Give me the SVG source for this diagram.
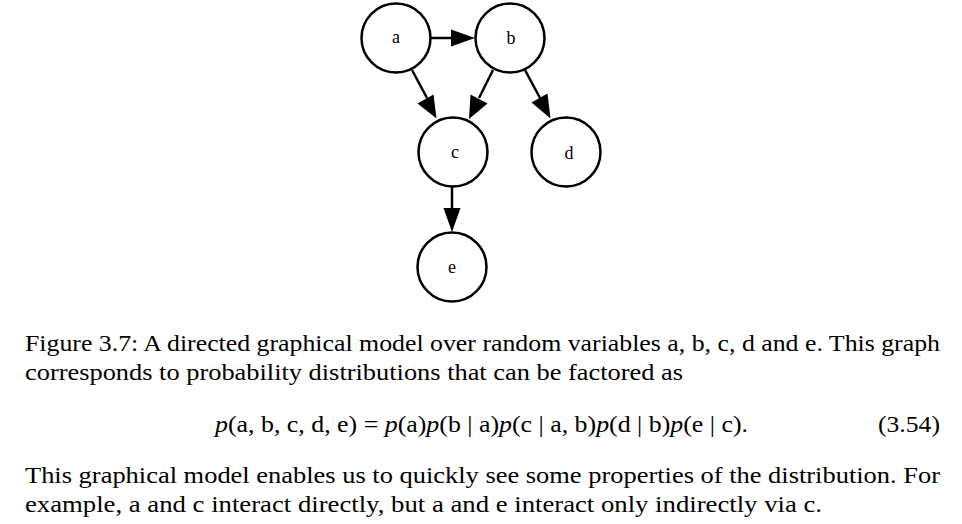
<svg xmlns="http://www.w3.org/2000/svg" width="962" height="524" viewBox="0 0 962 524">
<style>
.node circle{fill:#fff;stroke:#000;stroke-width:2.5}
.node text{font-family:"Liberation Serif","Times New Roman",Times,serif;font-size:18px;text-anchor:middle;fill:#000}
.edge{stroke:#000;stroke-width:2.5;fill:none}
.head{fill:#000}
.t{font-family:"Liberation Serif","Times New Roman",Times,serif;font-size:23px;fill:#000}
.i{font-style:italic}
</style>
<rect width="962" height="524" fill="#fff"/>
<g id="connectors">
<path class="edge" d="M430,38 L453,38"/>
<path class="head" d="M451,29.5 L475,38 L451,46.5 Z"/>
<path class="edge" d="M412,70 L427,98"/>
<path class="head" d="M417.5,103.5 L436.5,118.5 L433.5,94.5 Z"/>
<path class="edge" d="M493,70 L479,98"/>
<path class="head" d="M470.5,94.5 L469,119 L487.5,103.5 Z"/>
<path class="edge" d="M525,70 L540,98"/>
<path class="head" d="M531.5,102.5 L550.5,118.5 L547.5,93.5 Z"/>
<path class="edge" d="M452,187 L452,210"/>
<path class="head" d="M443.5,208 L452,232 L460.5,208 Z"/>
</g>
<g id="node-a" class="node"><circle cx="396" cy="38" r="34.5"/><text x="396" y="43">a</text></g>
<g id="node-b" class="node"><circle cx="510" cy="38" r="34.5"/><text x="511" y="44">b</text></g>
<g id="node-c" class="node"><circle cx="453" cy="152" r="34.5"/><text x="455" y="158">c</text></g>
<g id="node-d" class="node"><circle cx="566" cy="152" r="34.5"/><text x="569" y="159">d</text></g>
<g id="node-e" class="node"><circle cx="452" cy="267" r="34.5"/><text x="452" y="273">e</text></g>
<text class="t" x="25" y="351" textLength="915" lengthAdjust="spacingAndGlyphs">Figure 3.7: A directed graphical model over random variables a, b, c, d and e. This graph</text>
<text class="t" x="25" y="380" textLength="658" lengthAdjust="spacingAndGlyphs">corresponds to probability distributions that can be factored as</text>
<text class="t" x="215" y="432" textLength="533" lengthAdjust="spacingAndGlyphs"><tspan class="i">p</tspan>(a, b, c, d, e) = <tspan class="i">p</tspan>(a)<tspan class="i">p</tspan>(b | a)<tspan class="i">p</tspan>(c | a, b)<tspan class="i">p</tspan>(d | b)<tspan class="i">p</tspan>(e | c).</text>
<text class="t" x="878" y="432" textLength="62" lengthAdjust="spacingAndGlyphs">(3.54)</text>
<text class="t" x="25" y="483" textLength="915" lengthAdjust="spacingAndGlyphs">This graphical model enables us to quickly see some properties of the distribution. For</text>
<text class="t" x="25" y="512" textLength="797" lengthAdjust="spacingAndGlyphs">example, a and c interact directly, but a and e interact only indirectly via c.</text>
</svg>
